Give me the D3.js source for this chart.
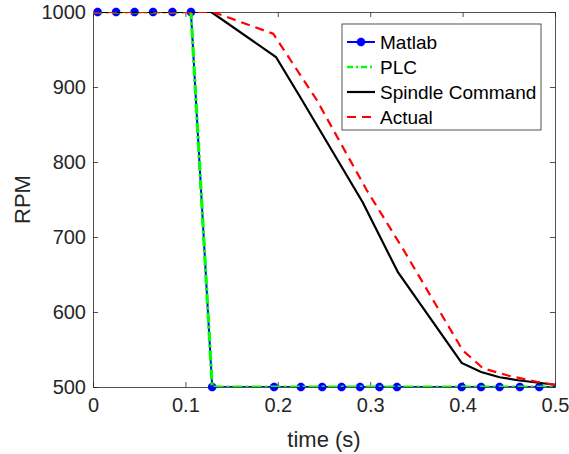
<!DOCTYPE html>
<html>
<head>
<meta charset="utf-8">
<script src="https://cdn.jsdelivr.net/npm/d3@7"></script>
<style>
  body { margin: 0; background: #fff; }
  svg { font-family: "Liberation Sans", Arial, Helvetica, sans-serif; }
</style>
</head>
<body>
<svg id="chart" width="569" height="454"></svg>
<script>
// sample times of the Matlab / PLC traces (s)
const matlabT = [0, 0.005, 0.025, 0.045, 0.065, 0.086, 0.106, 0.129, 0.196, 0.225, 0.248, 0.269, 0.289, 0.31, 0.329, 0.399, 0.42, 0.44, 0.462, 0.483, 0.5]
const matlabRpm = [1000, 1000, 1000, 1000, 1000, 1000, 1000, 500, 500, 500, 500, 500, 500, 500, 500, 500, 500, 500, 500, 500, 500]
const plcRpm = [1000, 1000, 1000, 1000, 1000, 1000, 1000, 500, 500, 500, 500, 500, 500, 500, 500, 500, 500, 500, 500, 500, 500]

const cmdT = [0, 0.128, 0.198, 0.225, 0.292, 0.33, 0.399, 0.42, 0.44, 0.46, 0.48, 0.5]
const cmdRpm = [1000, 1000, 940, 885, 746, 653, 532, 520, 513, 509, 506, 503]

const actT = [0, 0.13, 0.195, 0.242, 0.296, 0.336, 0.4, 0.422, 0.45, 0.48, 0.5]
const actRpm = [1000, 1000, 971, 883, 763, 683, 549, 525, 515, 507, 503]

const xTicks = [0, 0.1, 0.2, 0.3, 0.4, 0.5]
const yTicks = [500, 600, 700, 800, 900, 1000]
const legendNames = ['Matlab', 'PLC', 'Spindle Command', 'Actual']

const margin = {top: 12, left: 93, right: 14, bottom: 67}
const width = 569 - margin.left - margin.right
const height = 454 - margin.top - margin.bottom
const axisColor = '#262626'

const svg = d3.select('#chart')
const g = svg.append('g').attr('transform', `translate(${margin.left},${margin.top})`)

const x = d3.scaleLinear().domain([0, 0.5]).range([0, width])
const y = d3.scaleLinear().domain([500, 1000]).range([height, 0])

g.append('defs').append('clipPath').attr('id', 'clip')
  .append('rect').attr('width', width).attr('height', height)

// axes, MATLAB style with ticks inside and box
function styleAxis(sel) {
  sel.select('.domain').attr('stroke', axisColor).attr('stroke-width', 0.8)
  sel.selectAll('.tick line').attr('stroke', axisColor).attr('stroke-width', 0.8)
  sel.selectAll('.tick text').attr('fill', axisColor).attr('font-size', 20)
}

g.append('g')
  .attr('transform', `translate(0,${height})`)
  .call(d3.axisBottom(x).tickValues(xTicks).tickSize(-5).tickSizeOuter(0).tickPadding(11)
    .tickFormat(d => d === 0 ? '0' : d3.format('.1f')(d)))
  .call(styleAxis)

g.append('g')
  .call(d3.axisTop(x).tickValues(xTicks).tickSize(-5).tickSizeOuter(0).tickFormat(''))
  .call(styleAxis)

g.append('g')
  .call(d3.axisLeft(y).tickValues(yTicks).tickSize(-5).tickSizeOuter(0).tickPadding(7)
    .tickFormat(d3.format('d')))
  .call(styleAxis)

g.append('g')
  .attr('transform', `translate(${width},0)`)
  .call(d3.axisRight(y).tickValues(yTicks).tickSize(-5).tickSizeOuter(0).tickFormat(''))
  .call(styleAxis)

// axis labels
g.append('text')
  .attr('x', width / 2)
  .attr('y', height + 60)
  .attr('text-anchor', 'middle')
  .attr('font-size', 22)
  .attr('fill', axisColor)
  .text('time (s)')

g.append('text')
  .attr('transform', `translate(${22 - margin.left},${height / 2}) rotate(-90)`)
  .attr('text-anchor', 'middle')
  .attr('dominant-baseline', 'central')
  .attr('font-size', 22)
  .attr('fill', axisColor)
  .text('RPM')

const line = d3.line()

function asterisk(sel, r) {
  const p = `M${-r},0L${r},0M0,${-r}L0,${r}` +
    `M${-r * 0.7},${-r * 0.7}L${r * 0.7},${r * 0.7}M${-r * 0.7},${r * 0.7}L${r * 0.7},${-r * 0.7}`
  sel.append('path').attr('d', p)
}

// Matlab
g.append('path')
  .attr('clip-path', 'url(#clip)')
  .attr('d', line(matlabT.map((t, i) => [x(t), y(matlabRpm[i])])))
  .attr('fill', 'none').attr('stroke', '#0000ff').attr('stroke-width', 2)

const mk = g.append('g').attr('stroke', '#0000ff').attr('stroke-width', 3)
matlabT.forEach((t, i) => {
  if (i === 0 || i === matlabT.length - 1) return
  const m = mk.append('g').attr('transform', `translate(${x(t)},${y(matlabRpm[i])})`)
  asterisk(m, 4.2)
})

const plot = g.append('g').attr('clip-path', 'url(#clip)')

// PLC
plot.append('path')
  .attr('d', line(matlabT.map((t, i) => [x(t), y(plcRpm[i])])))
  .attr('fill', 'none').attr('stroke', '#00ff00').attr('stroke-width', 3.2)
  .attr('stroke-dasharray', '10,3,3,3')

// Spindle Command
plot.append('path')
  .attr('d', line(cmdT.map((t, i) => [x(t), y(cmdRpm[i])])))
  .attr('fill', 'none').attr('stroke', '#000').attr('stroke-width', 2.2)

// Actual
plot.append('path')
  .attr('d', line(actT.map((t, i) => [x(t), y(actRpm[i])])))
  .attr('fill', 'none').attr('stroke', '#ff0000').attr('stroke-width', 2.2)
  .attr('stroke-dasharray', '9,6')

// legend
const lg = svg.append('g').attr('transform', 'translate(342,24)')
lg.append('rect').attr('width', 199).attr('height', 106)
  .attr('fill', '#fff').attr('stroke', axisColor).attr('stroke-width', 0.8)

const legendStyles = [
  {color: '#0000ff', dash: null, w: 2},
  {color: '#00ff00', dash: '6,3,2,3', w: 2.6},
  {color: '#000', dash: null, w: 2.2},
  {color: '#ff0000', dash: '9,6', w: 2.2}
]

legendNames.forEach((name, i) => {
  const yy = 18 + i * 25
  const s = legendStyles[i]
  lg.append('line')
    .attr('x1', 5).attr('x2', 33).attr('y1', yy).attr('y2', yy)
    .attr('stroke', s.color).attr('stroke-width', s.w)
    .attr('stroke-dasharray', s.dash)
  if (i === 0) {
    const m = lg.append('g').attr('transform', `translate(19,${yy})`)
      .attr('stroke', '#0000ff').attr('stroke-width', 3)
    asterisk(m, 4.2)
  }
  lg.append('text')
    .attr('x', 38).attr('y', yy)
    .attr('dominant-baseline', 'central')
    .attr('font-size', 19)
    .attr('fill', '#000')
    .text(name)
})
</script>
</body>
</html>
